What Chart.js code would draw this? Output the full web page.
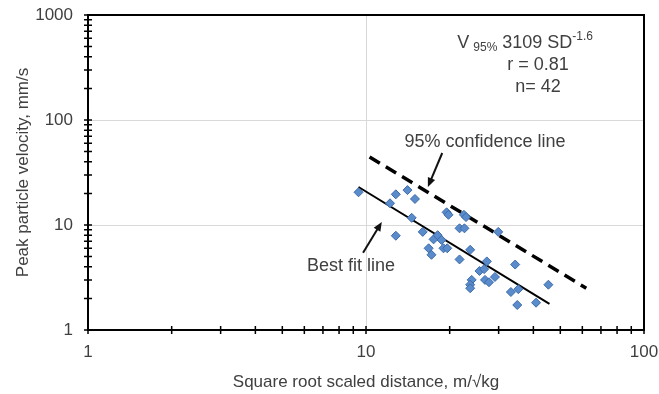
<!DOCTYPE html>
<html>
<head>
<meta charset="utf-8">
<script src="https://cdn.jsdelivr.net/npm/chart.js@4/dist/chart.umd.min.js"></script>
<style>
  html, body { margin: 0; padding: 0; background: #fff; }
  #wrap { width: 659px; height: 394px; }
</style>
</head>
<body>
<div id="wrap"><canvas id="myChart"></canvas></div>
<script>
// Measured blasts: scaled distance (m/sqrt kg) and peak particle velocity (mm/s)
const distance = [9.4, 12.8, 14.1, 15.0, 12.2, 14.6, 12.8, 16.0, 17.5, 18.1,
  18.7, 16.8, 17.2, 19.0, 19.6, 19.5, 19.8, 22.5, 22.9, 21.7,
  22.6, 23.7, 21.7, 29.9, 27.2, 25.6, 26.6, 24.0, 23.7, 23.7,
  26.8, 27.7, 29.1, 34.4, 33.2, 35.3, 35.0, 40.9, 45.3];
const velocity = [20.5, 19.6, 21.5, 17.7, 16.1, 11.7, 7.9, 8.6, 7.3, 8.0,
  7.2, 6.0, 5.2, 6.0, 6.0, 13.2, 12.5, 12.5, 11.9, 9.3,
  9.3, 5.8, 4.7, 8.6, 4.5, 3.65, 3.8, 3.0, 2.7, 2.5,
  3.0, 2.85, 3.2, 4.2, 2.3, 2.45, 1.73, 1.82, 2.7];

// line end points
const fitX = [9.4, 45.7];
const fitY = [23.0, 1.77];
const confX = [10.3, 62];
const confY = [44.5, 2.5];

const xTicks = [1, 10, 100];
const yTicks = [1, 10, 100, 1000];

const textColor = "#404040";
const fontFamily = '"Liberation Sans", Arial, sans-serif';

function toPoints(xs, ys) {
  return xs.map((v, i) => ({ x: v, y: ys[i] }));
}

function arrow(ctx, x1, y1, x2, y2) {
  const ang = Math.atan2(y2 - y1, x2 - x1);
  const len = 10;
  ctx.beginPath();
  ctx.moveTo(x1, y1);
  ctx.lineTo(x2 - Math.cos(ang) * len * 0.8, y2 - Math.sin(ang) * len * 0.8);
  ctx.stroke();
  ctx.beginPath();
  ctx.moveTo(x2, y2);
  ctx.lineTo(x2 - len * Math.cos(ang - 0.4), y2 - len * Math.sin(ang - 0.4));
  ctx.lineTo(x2 - len * Math.cos(ang + 0.4), y2 - len * Math.sin(ang + 0.4));
  ctx.closePath();
  ctx.fill();
}

// frame, crossing tick marks and the text notes
const extras = {
  id: "extras",
  beforeDatasetsDraw(chart) {
    const { ctx, chartArea: a, scales: { x, y } } = chart;
    ctx.save();
    ctx.strokeStyle = "#000";
    ctx.lineWidth = 2;
    ctx.strokeRect(a.left, a.top, a.right - a.left, a.bottom - a.top);

    ctx.lineWidth = 1.5;
    ctx.beginPath();
    for (let d = 1; d < 100; d *= 10) {
      for (let m = 1; m <= 10; m++) {
        const px = x.getPixelForValue(d * m);
        ctx.moveTo(px, a.bottom - 4);
        ctx.lineTo(px, a.bottom + 4);
      }
    }
    for (let d = 1; d < 1000; d *= 10) {
      for (let m = 1; m <= 10; m++) {
        const py = y.getPixelForValue(d * m);
        ctx.moveTo(a.left - 4, py);
        ctx.lineTo(a.left + 4, py);
      }
    }
    ctx.stroke();
    ctx.restore();
  },
  afterDatasetsDraw(chart) {
    const { ctx, scales: { x, y } } = chart;
    ctx.save();
    ctx.fillStyle = textColor;
    ctx.textBaseline = "middle";

    // equation
    let px = x.getPixelForValue(21.3);
    const py = y.getPixelForValue(541);
    ctx.textAlign = "left";
    ctx.font = "18px " + fontFamily;
    ctx.fillText("V", px, py);
    px += ctx.measureText("V").width + 4;
    ctx.font = "12px " + fontFamily;
    ctx.fillText("95%", px, py + 5);
    px += ctx.measureText("95%").width;
    ctx.font = "18px " + fontFamily;
    ctx.fillText(" 3109 SD", px, py);
    px += ctx.measureText(" 3109 SD").width;
    ctx.font = "12px " + fontFamily;
    ctx.fillText("-1.6", px, py - 6);

    ctx.font = "18px " + fontFamily;
    ctx.textAlign = "center";
    ctx.fillText("r = 0.81", x.getPixelForValue(41.6), y.getPixelForValue(334));
    ctx.fillText("n= 42", x.getPixelForValue(41.6), y.getPixelForValue(206));
    ctx.fillText("95% confidence line", x.getPixelForValue(26.8), y.getPixelForValue(61.7));
    ctx.fillText("Best fit line", x.getPixelForValue(8.83), y.getPixelForValue(4.07));

    ctx.strokeStyle = "#111";
    ctx.fillStyle = "#111";
    ctx.lineWidth = 2;
    arrow(ctx, x.getPixelForValue(18.8), y.getPixelForValue(48.5),
      x.getPixelForValue(16.7), y.getPixelForValue(23.0));
    arrow(ctx, x.getPixelForValue(9.76), y.getPixelForValue(5.45),
      x.getPixelForValue(11.4), y.getPixelForValue(10.7));
    ctx.restore();
  }
};

const config = {
  type: "scatter",
  data: {
    datasets: [
      {
        label: "Measured",
        data: toPoints(distance, velocity),
        pointStyle: "rectRot",
        pointRadius: 4.5,
        backgroundColor: "#5a8ccc",
        borderColor: "#3c6aa8",
        borderWidth: 1,
        order: 1,
      },
      {
        label: "Best fit line",
        type: "line",
        data: toPoints(fitX, fitY),
        borderColor: "#000",
        borderWidth: 2,
        pointRadius: 0,
        order: 2,
      },
      {
        label: "95% confidence line",
        type: "line",
        data: toPoints(confX, confY),
        borderColor: "#000",
        borderWidth: 3.5,
        borderDash: [12, 7],
        pointRadius: 0,
        order: 3,
      },
    ],
  },
  options: {
    responsive: true,
    maintainAspectRatio: false,
    animation: false,
    layout: { padding: { top: 15, right: 15, left: 0, bottom: 0 } },
    plugins: { legend: { display: false }, tooltip: { enabled: false } },
    scales: {
      x: {
        type: "logarithmic",
        min: 1,
        max: 100,
        afterBuildTicks: (s) => { s.ticks = xTicks.map((v) => ({ value: v })); },
        afterFit: (s) => {
          s.height = 64;
          s.paddingLeft = 0;
          s.paddingRight = 0;
        },
        ticks: {
          callback: (v) => String(v),
          color: textColor,
          font: { family: fontFamily, size: 17 },
          padding: 12,
          maxRotation: 0,
          autoSkip: false,
        },
        grid: {
          color: (c) => (c.tick && c.tick.value === 10 ? "#d9d9d9" : "rgba(0,0,0,0)"),
          drawTicks: false,
        },
        border: { display: false },
        title: {
          display: true,
          text: "Square root scaled distance, m/\u221akg",
          color: textColor,
          font: { family: fontFamily, size: 17 },
          padding: { top: 0, bottom: 1 },
        },
      },
      y: {
        type: "logarithmic",
        min: 1,
        max: 1000,
        afterBuildTicks: (s) => { s.ticks = yTicks.map((v) => ({ value: v })); },
        afterFit: (s) => {
          s.width = 88;
          s.paddingTop = 0;
          s.paddingBottom = 0;
        },
        ticks: {
          callback: (v) => String(v),
          color: textColor,
          font: { family: fontFamily, size: 17 },
          padding: 15,
          autoSkip: false,
        },
        grid: {
          color: (c) => (c.tick && (c.tick.value === 10 || c.tick.value === 100) ? "#d9d9d9" : "rgba(0,0,0,0)"),
          drawTicks: false,
        },
        border: { display: false },
        title: {
          display: true,
          text: "Peak particle velocity, mm/s",
          color: textColor,
          font: { family: fontFamily, size: 17 },
          padding: { top: 13, bottom: 0 },
        },
      },
    },
  },
  plugins: [extras],
};

let myChart = new Chart(document.getElementById("myChart"), config);
</script>
</body>
</html>
